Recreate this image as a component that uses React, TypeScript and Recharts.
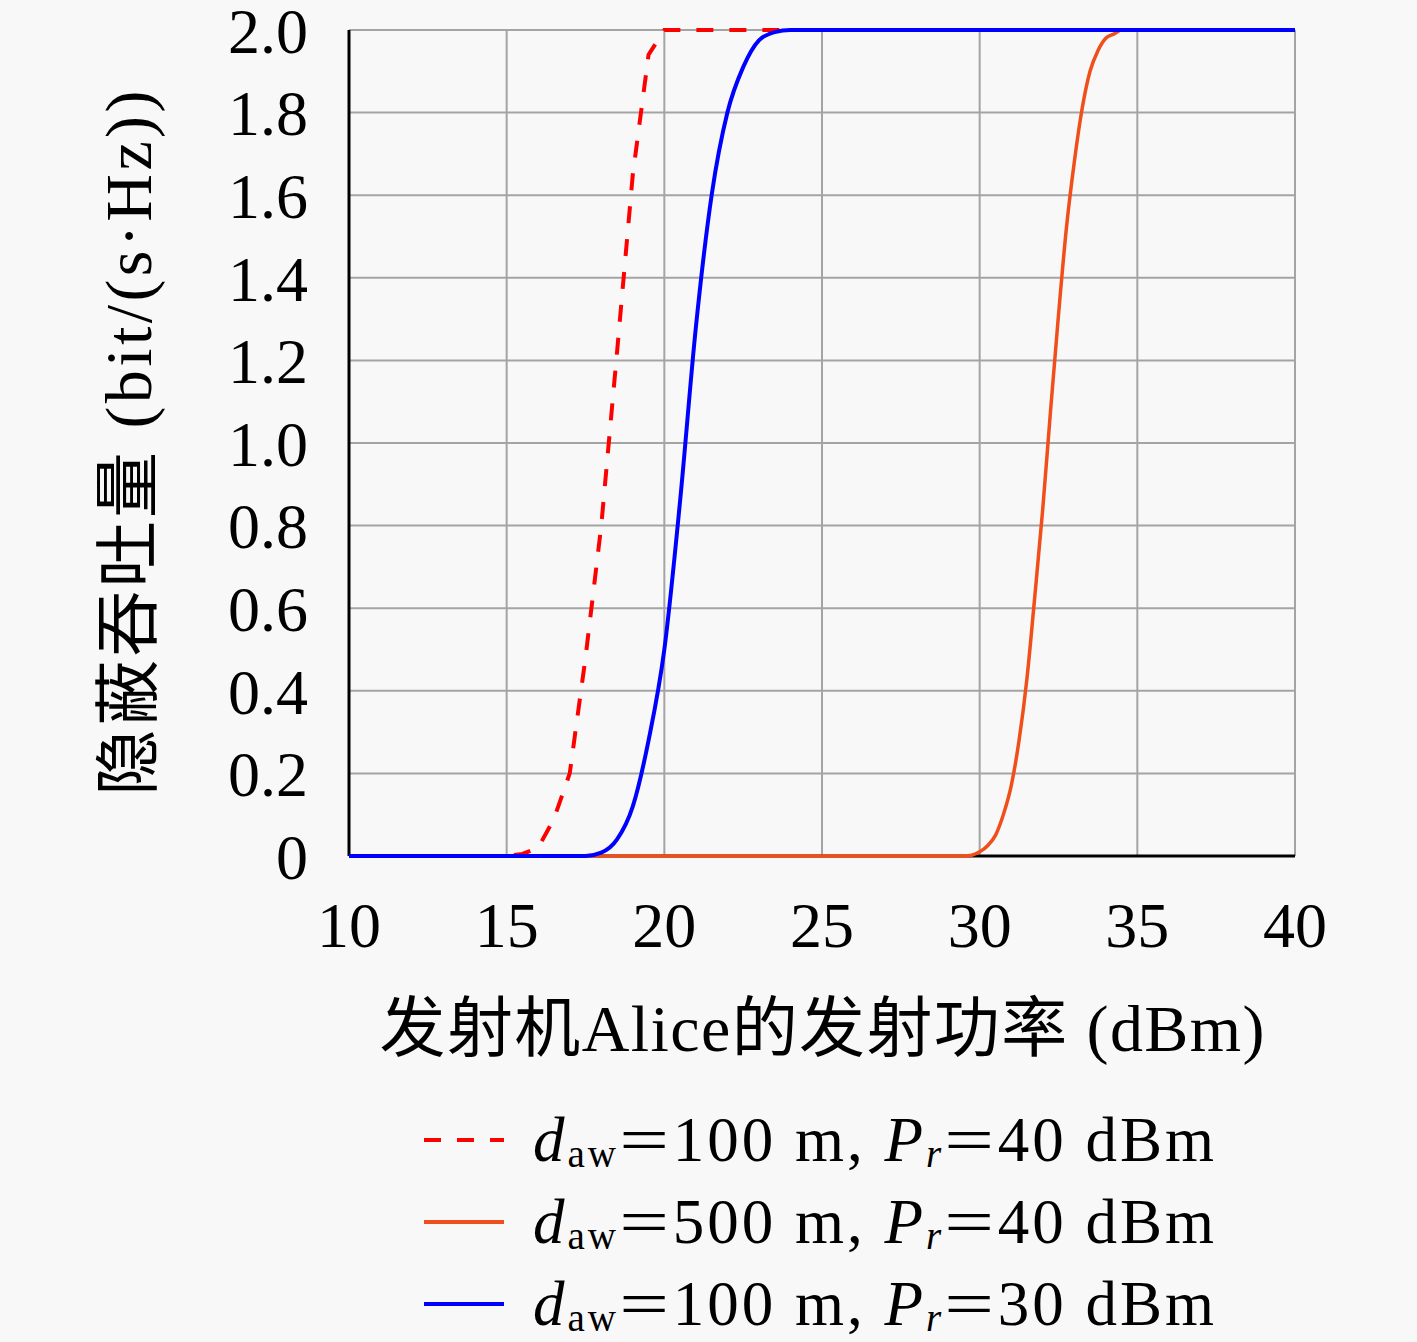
import React from 'react';
import { LineChart, Line, XAxis, YAxis, CartesianGrid, Legend } from 'recharts';

// ---- data ----
const xTicks = [10, 15, 20, 25, 30, 35, 40];
const yTicks = [0, 0.2, 0.4, 0.6, 0.8, 1.0, 1.2, 1.4, 1.6, 1.8, 2.0];
const yMinorTicks = [
  0, 0.05, 0.1, 0.15, 0.2, 0.25, 0.3, 0.35, 0.4, 0.45, 0.5, 0.55, 0.6, 0.65, 0.7, 0.75, 0.8, 0.85,
  0.9, 0.95, 1.0, 1.05, 1.1, 1.15, 1.2, 1.25, 1.3, 1.35, 1.4, 1.45, 1.5, 1.55, 1.6, 1.65, 1.7, 1.75,
  1.8, 1.85, 1.9, 1.95, 2.0,
];

// d_aw = 100 m, P_r = 40 dBm (red dashed)
const powerA = [10, 15, 15.5, 16, 16.5, 17, 17.5, 18, 18.5, 19, 19.5, 20, 40];
const rateA = [0, 0, 0.005, 0.02, 0.09, 0.2, 0.48, 0.8, 1.22, 1.65, 1.94, 2.0, 2.0];

// d_aw = 500 m, P_r = 40 dBm (orange)
const powerB = [10, 29.5, 29.75, 30, 30.25, 30.5, 30.75, 31, 31.25, 31.5, 31.75, 32, 32.25, 32.5, 32.75, 33, 33.25, 33.5, 33.75, 34, 34.25, 34.5, 35, 40];
const rateB = [0, 0, 0.002, 0.01, 0.025, 0.05, 0.1, 0.17, 0.28, 0.43, 0.63, 0.84, 1.08, 1.31, 1.52, 1.68, 1.81, 1.9, 1.95, 1.98, 1.99, 2.0, 2.0, 2.0];

// d_aw = 100 m, P_r = 30 dBm (blue)
const powerC = [10, 17.5, 18, 18.5, 19, 19.5, 20, 20.5, 21, 21.5, 22, 22.5, 23, 23.5, 24, 40];
const rateC = [0, 0, 0.008, 0.04, 0.12, 0.28, 0.5, 0.86, 1.28, 1.6, 1.8, 1.91, 1.975, 1.995, 2.0, 2.0];

const legendDist = ['100', '500', '100'];
const legendPower = ['40', '40', '30'];

const toRows = (xs: number[], ys: number[]) => xs.map((x, i) => ({ x, y: ys[i] }));
const dataA = toRows(powerA, rateA);
const dataB = toRows(powerB, rateB);
const dataC = toRows(powerC, rateC);

const FONT = "'Liberation Serif', 'Noto Sans CJK SC', serif";
const BG = '#f8f8f8';
const COLORS = { a: '#ff0000', b: '#f04e1a', c: '#0000ff' };

const YLabel = (props: any) => {
  const vb = props.viewBox || { x: 0, y: 0, width: 0, height: 0 };
  const cx = vb.x + 120;
  const cy = vb.y + vb.height / 2;
  return (
    <text
      x={cx}
      y={cy}
      transform={`rotate(-90 ${cx} ${cy})`}
      textAnchor="middle"
      dominantBaseline="central"
      fontSize={66}
      fontFamily={FONT}
      fill="#000"
      textLength={705}
      lengthAdjust="spacing"
    >
      隐蔽吞吐量 (bit/(s·Hz))
    </text>
  );
};

const XLabel = (props: any) => {
  const vb = props.viewBox || { x: 0, y: 0, width: 0, height: 0 };
  const cx = vb.x + vb.width / 2;
  const cy = vb.y + 172;
  return (
    <text
      x={cx}
      y={cy}
      textAnchor="middle"
      dominantBaseline="central"
      fontSize={66}
      fontFamily={FONT}
      fill="#000"
      textLength={885}
      lengthAdjust="spacing"
    >
      发射机Alice的发射功率 (dBm)
    </text>
  );
};

const subStyle: React.CSSProperties = { fontSize: '0.62em', verticalAlign: '-0.15em', lineHeight: 0, fontStyle: 'normal' };
const eqStyle: React.CSSProperties = { display: 'inline-block', transform: 'scaleX(1.4)', margin: '0 0.12em' };

const LegendContent = (props: any) => {
  const payload = props.payload || [];
  return (
    <div style={{ fontFamily: FONT, fontSize: 63, color: '#000', lineHeight: 0.8, letterSpacing: 3 }}>
      {payload.map((entry: any, i: number) => (
        <div
          key={i}
          style={{ display: 'flex', alignItems: 'center', height: 56, marginTop: i === 0 ? 0 : 26, whiteSpace: 'nowrap' }}
        >
          <svg width={82} height={20} style={{ display: 'block' }}>
            <line
              x1={1}
              x2={81}
              y1={10}
              y2={10}
              stroke={entry.color}
              strokeWidth={4}
              strokeDasharray={entry.payload && entry.payload.strokeDasharray ? entry.payload.strokeDasharray : undefined}
            />
          </svg>
          <span style={{ marginLeft: 28 }}>
            <i>d</i>
            <sub style={subStyle}>aw</sub>
            <span style={eqStyle}>=</span>
            {legendDist[i]} m, <i>P</i>
            <sub style={{ ...subStyle, fontStyle: 'italic' }}>r</sub>
            <span style={eqStyle}>=</span>
            {legendPower[i]} dBm
          </span>
        </div>
      ))}
    </div>
  );
};

const tickFont = { fontSize: 64, fontFamily: FONT, fill: '#000' };
const blank = () => '';
const frame = { stroke: '#000', strokeWidth: 3 };
const tickStroke = { stroke: '#000', strokeWidth: 3 };

export default function App() {
  return (
    <div style={{ position: 'fixed', left: 0, top: 0, right: 0, bottom: 0, background: BG, overflow: 'hidden' }}>
      <div style={{ position: 'absolute', left: 8, top: 8 }}>
        <LineChart width={1400} height={1334} margin={{ top: 22, right: 113, left: 0, bottom: 286 }}>
          <CartesianGrid xAxisId="x" yAxisId="y" stroke="#a4a4a4" strokeWidth={2} />
          <XAxis
            xAxisId="x"
            type="number"
            dataKey="x"
            domain={[10, 40]}
            ticks={xTicks}
            height={200}
            tickLine={false}
            tickSize={6}
            tickMargin={40}
            axisLine={frame}
            tick={tickFont}
            interval={0}
            label={{ content: XLabel }}
          />
          <XAxis xAxisId="xb" type="number" domain={[10, 40]} ticks={xTicks} orientation="bottom" mirror height={0} tickSize={9} tickLine={tickStroke} axisLine={false} tickFormatter={blank} interval={0} />
          <XAxis xAxisId="xt" type="number" domain={[10, 40]} ticks={xTicks} orientation="top" mirror height={0} tickSize={9} tickLine={tickStroke} axisLine={frame} tickFormatter={blank} interval={0} />
          <YAxis
            yAxisId="y"
            type="number"
            domain={[0, 2]}
            ticks={yTicks}
            width={341}
            tickLine={false}
            tickSize={6}
            tickMargin={35}
            axisLine={frame}
            tick={tickFont}
            interval={0}
            tickFormatter={(v: number) => (v === 0 ? '0' : v.toFixed(1))}
            label={{ content: YLabel }}
          />
          <YAxis yAxisId="ylMinor" type="number" domain={[0, 2]} ticks={yMinorTicks} orientation="left" mirror width={0} tickSize={5} tickLine={{ stroke: '#000', strokeWidth: 2.5 }} axisLine={false} tickFormatter={blank} interval={0} />
          <YAxis yAxisId="ylMajor" type="number" domain={[0, 2]} ticks={yTicks} orientation="left" mirror width={0} tickSize={9} tickLine={tickStroke} axisLine={false} tickFormatter={blank} interval={0} />
          <YAxis yAxisId="yrMinor" type="number" domain={[0, 2]} ticks={yMinorTicks} orientation="right" mirror width={0} tickSize={5} tickLine={{ stroke: '#000', strokeWidth: 2.5 }} axisLine={frame} tickFormatter={blank} interval={0} />
          <YAxis yAxisId="yrMajor" type="number" domain={[0, 2]} ticks={yTicks} orientation="right" mirror width={0} tickSize={9} tickLine={tickStroke} axisLine={false} tickFormatter={blank} interval={0} />
          <Legend
            layout="vertical"
            align="center"
            verticalAlign="middle"
            content={LegendContent}
            wrapperStyle={{ left: 415, top: 1104, width: 'auto' }}
          />
          <Line
            xAxisId="x"
            yAxisId="y"
            data={dataA}
            dataKey="y"
            name="a"
            type="linear"
            stroke={COLORS.a}
            strokeWidth={4}
            strokeDasharray="17 16"
            dot={false}
            activeDot={false}
            isAnimationActive={false}
            zIndex={600}
          />
          <Line
            xAxisId="x"
            yAxisId="y"
            data={dataB}
            dataKey="y"
            name="b"
            type="monotone"
            stroke={COLORS.b}
            strokeWidth={3.5}
            dot={false}
            activeDot={false}
            isAnimationActive={false}
            zIndex={600}
          />
          <Line
            xAxisId="x"
            yAxisId="y"
            data={dataC}
            dataKey="y"
            name="c"
            type="monotone"
            stroke={COLORS.c}
            strokeWidth={4}
            dot={false}
            activeDot={false}
            isAnimationActive={false}
            zIndex={600}
          />
        </LineChart>
      </div>
    </div>
  );
}
